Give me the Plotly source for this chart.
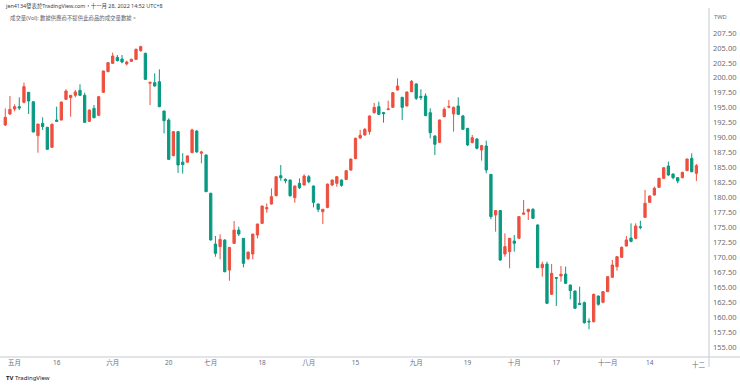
import pandas as pd
import plotly.graph_objects as go

# ---------------- data ----------------
holidays = ["2022-05-02", "2022-06-03", "2022-09-09", "2022-10-10"]
dates = pd.bdate_range("2022-04-28", "2022-11-28", freq="C",
                       holidays=holidays).strftime("%Y-%m-%d").tolist()

open_ = [192.12, 193.96, 194.79, 195.18, 195.91, 197.58, 196.00, 190.33, 192.39, 191.73,
         188.38, 192.95, 192.95, 196.41, 196.69, 197.08, 197.91, 197.08, 192.73, 194.90,
         193.73, 197.58, 201.03, 202.43, 203.43, 203.15, 202.32, 202.76, 203.10, 204.55,
         204.10, 199.10, 199.20, 199.36, 194.46, 192.95, 186.99, 191.00, 185.90, 185.90,
         187.50, 191.10, 187.40, 187.10, 180.69, 172.21, 171.77, 172.88, 167.86, 172.32,
         174.55, 173.16, 169.76, 170.54, 173.72, 175.67, 178.10, 178.90, 180.29, 183.64,
         183.03, 182.91, 179.96, 182.36, 182.08, 183.47, 181.91, 178.90, 177.62, 178.34,
         182.08, 182.36, 182.91, 183.02, 184.58, 186.50, 189.95, 190.45, 191.01, 194.18,
         195.18, 194.20, 194.70, 195.07, 197.97, 196.75, 195.30, 197.69, 198.98, 196.90,
         196.97, 194.18, 190.28, 189.22, 193.51, 195.10, 193.96, 195.30, 193.63, 191.56,
         189.17, 189.78, 187.94, 188.61, 183.87, 177.07, 177.80, 170.55, 170.94, 172.72,
         173.17, 177.20, 177.63, 178.02, 175.40, 168.26, 168.87, 163.80, 166.60, 166.87,
         167.20, 165.36, 164.36, 162.30, 162.41, 159.30, 159.23, 163.52, 162.46, 164.25,
         166.65, 168.43, 169.99, 171.88, 173.22, 173.17, 175.10, 176.68, 179.19, 180.41,
         181.69, 183.20, 185.26, 183.92, 183.31, 183.31, 184.48, 186.54, 184.03]
high = [194.90, 196.97, 195.57, 196.74, 199.20, 197.65, 196.10, 192.30, 193.40, 191.80,
        192.39, 195.18, 196.00, 198.08, 197.10, 197.97, 198.92, 197.52, 194.70, 195.46,
        196.90, 201.20, 202.60, 204.21, 203.82, 203.82, 202.87, 203.20, 204.90, 205.38,
        204.21, 199.30, 200.76, 201.42, 194.50, 193.23, 191.10, 191.10, 187.40, 187.00,
        191.50, 191.30, 187.80, 187.20, 180.80, 173.55, 173.83, 173.00, 171.70, 176.06,
        175.11, 173.20, 170.90, 173.90, 175.60, 178.60, 179.00, 181.52, 183.50, 185.42,
        183.19, 183.00, 182.00, 183.19, 183.86, 183.75, 182.00, 179.00, 178.10, 182.30,
        183.00, 183.60, 183.00, 184.60, 186.50, 190.00, 191.30, 191.60, 193.70, 195.80,
        196.02, 194.30, 196.19, 197.60, 199.92, 196.80, 197.70, 199.65, 199.10, 198.08,
        197.40, 194.91, 190.40, 193.00, 195.07, 196.30, 195.20, 196.75, 193.80, 191.60,
        190.45, 189.90, 188.80, 189.50, 183.90, 177.90, 177.90, 174.00, 173.20, 173.72,
        176.90, 179.58, 178.10, 178.20, 175.50, 169.26, 169.26, 168.87, 166.70, 168.54,
        168.43, 165.40, 164.40, 165.08, 162.60, 159.79, 163.90, 163.60, 164.30, 166.80,
        169.54, 170.20, 171.80, 173.56, 175.67, 175.67, 176.12, 181.25, 180.30, 181.81,
        183.30, 185.00, 185.99, 184.00, 183.40, 184.30, 186.50, 187.38, 185.60]
low = [191.95, 193.80, 194.40, 194.62, 195.74, 193.96, 190.90, 187.49, 191.28, 187.94,
       188.30, 192.70, 192.90, 196.30, 193.51, 196.74, 196.97, 192.51, 192.60, 193.23,
       193.60, 197.50, 201.00, 202.40, 202.76, 202.43, 202.09, 202.70, 203.00, 204.38,
       199.64, 195.46, 198.53, 195.10, 190.72, 186.30, 186.90, 184.10, 184.00, 185.80,
       187.40, 187.50, 185.70, 180.90, 172.80, 170.09, 169.65, 167.50, 166.08, 172.30,
       173.55, 168.31, 169.54, 169.65, 173.16, 175.60, 177.45, 178.80, 180.20, 182.80,
       182.36, 180.13, 179.12, 181.41, 182.00, 182.36, 178.34, 177.56, 175.56, 178.20,
       181.90, 181.80, 181.80, 182.90, 184.50, 186.40, 189.80, 190.30, 190.50, 194.00,
       193.80, 192.51, 194.60, 195.00, 197.90, 192.96, 195.20, 197.60, 196.30, 196.30,
       193.60, 189.89, 187.10, 189.10, 193.40, 194.90, 191.01, 193.80, 191.30, 188.60,
       189.06, 188.05, 186.16, 184.04, 176.35, 174.28, 169.40, 170.10, 168.15, 170.94,
       173.10, 177.07, 176.23, 176.40, 168.20, 166.76, 162.20, 163.70, 161.85, 165.92,
       165.53, 162.97, 161.40, 162.00, 158.90, 157.95, 159.10, 161.90, 162.30, 164.20,
       166.60, 167.76, 169.90, 171.80, 172.50, 173.00, 174.67, 176.60, 179.10, 180.30,
       181.60, 183.10, 183.60, 183.03, 182.36, 183.20, 184.40, 184.20, 182.75]
close = [193.40, 194.74, 195.18, 194.96, 198.53, 196.13, 190.95, 192.28, 191.84, 188.05,
         192.23, 192.73, 195.96, 197.80, 197.08, 197.63, 197.08, 192.56, 194.62, 193.34,
         196.85, 201.15, 202.54, 203.65, 202.87, 202.65, 202.65, 203.10, 204.77, 205.22,
         199.75, 199.25, 198.64, 195.18, 192.84, 186.37, 191.00, 185.43, 185.50, 186.95,
         191.30, 187.60, 187.60, 180.97, 172.89, 170.65, 172.99, 167.58, 171.65, 174.55,
         173.88, 168.98, 170.87, 173.88, 175.56, 178.57, 178.30, 180.13, 183.47, 183.30,
         182.80, 180.29, 181.91, 181.63, 183.58, 182.63, 179.18, 178.01, 178.01, 182.24,
         182.91, 183.47, 182.02, 184.47, 186.42, 189.89, 190.39, 191.40, 193.63, 195.07,
         193.90, 194.00, 194.80, 197.53, 198.64, 195.07, 197.64, 199.42, 196.58, 196.70,
         193.68, 190.84, 188.89, 192.96, 194.74, 195.20, 195.07, 193.90, 191.40, 188.78,
         190.00, 188.22, 188.66, 184.59, 176.79, 177.80, 169.55, 171.77, 173.17, 172.33,
         176.79, 177.40, 178.02, 176.51, 168.26, 168.82, 162.30, 167.31, 166.50, 167.15,
         165.64, 164.42, 161.46, 162.10, 159.06, 159.20, 163.80, 162.13, 164.25, 166.76,
         168.71, 170.10, 171.66, 172.89, 172.66, 175.23, 175.00, 179.02, 180.25, 181.53,
         183.20, 184.98, 183.76, 183.31, 182.75, 184.20, 186.43, 184.31, 185.32]

tick_dates = ["2022-05-03", "2022-05-16", "2022-06-01", "2022-06-20", "2022-07-01",
              "2022-07-18", "2022-08-01", "2022-08-15", "2022-09-01", "2022-09-19",
              "2022-10-03", "2022-10-17", "2022-11-01", "2022-11-14"]
tick_labels = ["五月", "16", "六月", "20", "七月", "18", "八月", "15", "九月", "19",
               "十月", "17", "十一月", "14"]
price_ticks = [155.0, 157.5, 160.0, 162.5, 165.0, 167.5, 170.0, 172.5, 175.0, 177.5,
               180.0, 182.5, 185.0, 187.5, 190.0, 192.5, 195.0, 197.5, 200.0, 202.5,
               205.0, 207.5]

UP = "#EE4F3E"
DOWN = "#089981"
FONT = "Noto Sans, Noto Sans CJK TC, sans-serif"
TXT = "#6b6e78"

# ---------------- figure ----------------
fig = go.Figure(go.Candlestick(
    x=dates, open=open_, high=high, low=low, close=close,
    increasing=dict(line=dict(color=UP, width=1), fillcolor=UP),
    decreasing=dict(line=dict(color=DOWN, width=1), fillcolor=DOWN),
    hoverinfo="skip",
))

W, H = 740, 385
PW, PH = 709, 357  # plot area in px


def px(xp):
    return xp / PW


def py(yp):
    return 1 - yp / PH


fig.update_layout(
    width=W, height=H,
    margin=dict(l=0, r=W - PW, t=0, b=H - PH),
    paper_bgcolor="white", plot_bgcolor="white",
    showlegend=False,
    font=dict(family=FONT, size=7, color=TXT),
    xaxis=dict(type="category", range=[-1.13, 150.7], tickvals=tick_dates,
               ticktext=tick_labels, showgrid=False, zeroline=False, ticks="",
               showline=False, rangeslider=dict(visible=False),
               tickfont=dict(family=FONT, size=6.5, color=TXT)),
    yaxis=dict(side="right", range=[153.32, 213.02], tickvals=price_ticks,
               tickformat=".2f", showgrid=False, zeroline=False, ticks="",
               showline=False, ticklabelstandoff=3,
               tickfont=dict(family=FONT, size=7.5, color=TXT)),
    shapes=[
        dict(type="line", xref="paper", yref="paper", x0=px(709), x1=px(709),
             y0=py(8), y1=py(367), line=dict(color="#c6c9d0", width=1)),
        dict(type="line", xref="paper", yref="paper", x0=0, x1=px(740),
             y0=py(357), y1=py(357), line=dict(color="#c6c9d0", width=1)),
    ],
    annotations=[
        dict(text="jen4134發表於TradingView.com，十一月 28, 2022 14:52 UTC+8",
             xref="paper", yref="paper", x=px(3), y=py(6), xanchor="left",
             yanchor="middle", showarrow=False,
             font=dict(family=FONT, size=5.4, color="#3a3d46")),
        dict(text="成交量(Vol): 數據供應商不提供此商品的成交量數據。",
             xref="paper", yref="paper", x=px(8), y=py(18), xanchor="left",
             yanchor="middle", showarrow=False,
             font=dict(family=FONT, size=5.4, color="#5d606b")),
        dict(text="TWD", xref="paper", yref="paper", x=px(712), y=py(17),
             xanchor="left", yanchor="middle", showarrow=False,
             font=dict(family=FONT, size=5.8, color=TXT)),
        dict(text="十二", xref="paper", yref="paper", x=px(708), y=py(364),
             xanchor="right", yanchor="middle", showarrow=False,
             font=dict(family=FONT, size=6.5, color=TXT)),
        dict(text="<b>TV</b> TradingView", xref="paper", yref="paper", x=px(4),
             y=py(378), xanchor="left", yanchor="middle", showarrow=False,
             font=dict(family=FONT, size=6, color="#131722")),
    ],
)

fig.write_html(
    "out.html",
    config={"displayModeBar": False, "staticPlot": True},
    post_script="document.body.style.margin='0';document.body.style.overflow='hidden';",
)
